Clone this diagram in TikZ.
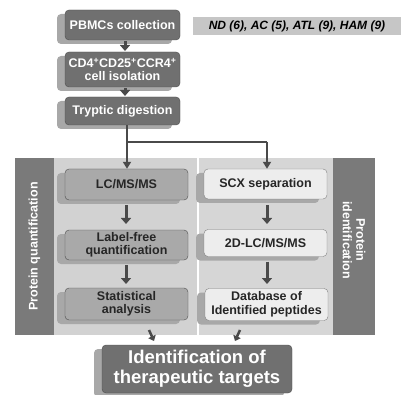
\documentclass[tikz,border=0pt]{standalone}
\usepackage{fontspec}
\setmainfont{Liberation Sans}
\usetikzlibrary{shadows,arrows.meta}
\definecolor{darkbox}{HTML}{707070}
\definecolor{midbox}{HTML}{A9A9A9}
\definecolor{lightbox}{HTML}{EDEDED}
\definecolor{panel}{HTML}{D2D2D2}
\definecolor{bar}{HTML}{7A7A7A}
\definecolor{shade}{HTML}{A8A8A8}
\definecolor{band}{HTML}{C6C6C6}
\definecolor{arr}{HTML}{4A4A4A}
\begin{document}
\begin{tikzpicture}[x=1pt,y=-1pt,
  shad/.style={drop shadow={shadow xshift=-8pt,shadow yshift=-4pt,fill=shade,opacity=1}},
  topbox/.style={draw=black!70,fill=darkbox,rounded corners=4pt,text=white,font=\bfseries\fontsize{12.5}{13.5}\selectfont,align=center,minimum width=115pt,inner sep=0pt,shad},
  leftbox/.style={draw=black!70,fill=midbox,rounded corners=4pt,text=black!85,font=\bfseries\fontsize{12.5}{13.5}\selectfont,align=center,minimum width=123pt,inner sep=0pt,shad},
  rightbox/.style={draw=black!50,fill=lightbox,rounded corners=4pt,text=black!85,font=\bfseries\fontsize{12.5}{13.5}\selectfont,align=center,minimum width=123pt,inner sep=0pt,shad},
  sarrow/.style={draw=arr,line width=3pt,-{Triangle[length=6pt,width=10pt]}},
  flow/.style={draw=arr,line width=2.2pt},
  bartext/.style={text=white,font=\bfseries\fontsize{12.5}{13.5}\selectfont,align=center}
]
\useasboundingbox (0,0) rectangle (401,395);
% label band
\node[fill=band,minimum width=208pt,minimum height=18pt,inner sep=0pt,font=\bfseries\itshape\fontsize{12}{13}\selectfont] (grp) at (297,26) {ND (6), AC (5), ATL (9), HAM (9)};
% top boxes
\node[topbox,minimum height=30pt] (pbmc) at (122.5,25) {PBMCs collection};
\node[topbox,minimum height=35pt] (cd4) at (122.5,69.5) {CD4\textsuperscript{+}CD25\textsuperscript{+}CCR4\textsuperscript{+}\\cell isolation};
\node[topbox,minimum height=28pt] (tryp) at (122.5,111) {Tryptic digestion};
% panel
\fill[panel] (54,158) rectangle (197,335);
\fill[panel!90] (199,158) rectangle (333,335);
\node[fill=bar,minimum width=39pt,minimum height=177pt,inner sep=0pt] (lbar) at (34.5,246.5) {};
\node[fill=bar,minimum width=42pt,minimum height=177pt,inner sep=0pt] (rbar) at (354,246.5) {};
\node[bartext,rotate=90] (lbt) at (lbar.center) {Protein quantification};
\node[bartext,rotate=-90] (rbt) at (354,240) {Protein\\identification};
% column boxes
\node[leftbox,minimum height=31pt] (lc) at (126.5,184.5) {LC/MS/MS};
\node[leftbox,minimum height=30pt] (lf) at (126.5,245) {Label-free\\quantification};
\node[leftbox,minimum height=32pt] (st) at (126.5,304) {Statistical\\analysis};
\node[rightbox,minimum height=30pt] (scx) at (265.5,184) {SCX separation};
\node[rightbox,minimum height=27pt] (lc2) at (265.5,243) {2D-LC/MS/MS};
\node[rightbox,minimum height=32pt] (db) at (266.5,304.5) {Database of\\Identified peptides};
% final box
\node[topbox,minimum width=190pt,minimum height=48pt,font=\bfseries\fontsize{18.5}{20}\selectfont] (fin) at (197,369) {Identification of\\therapeutic targets};
% small arrows
\draw[sarrow] (pbmc.south -| 125,0) ++(0,1) -- (125,51);
\draw[sarrow] (cd4.south -| 125,0) ++(0,1) -- (125,96);
\coordinate (split) at (127,142);
\coordinate (turn) at (267,142);
\draw[flow] (tryp.south -| split) -- (split) -- (turn);
\draw[flow,-{Triangle[length=7pt,width=8pt]}] (split) -- (lc.north -| split);
\draw[flow,-{Triangle[length=7pt,width=8pt]}] (turn) -- (scx.north -| turn);
\draw[sarrow] (lc.south -| 126,0) ++(0,5) -- (126,224);
\draw[sarrow] (lf.south -| 126,0) ++(0,5) -- (126,284);
\draw[sarrow] (scx.south -| 267,0) ++(0,6) -- (267,224);
\draw[sarrow] (lc2.south -| 267,0) ++(0,5) -- (267,284);
\draw[draw=arr,line width=2.5pt,-{Triangle[length=5pt,width=8pt]}] (149,330) -- (154,341);
\draw[draw=arr,line width=2.5pt,-{Triangle[length=5pt,width=8pt]}] (240,330) -- (235,341);
\end{tikzpicture}
\end{document}
